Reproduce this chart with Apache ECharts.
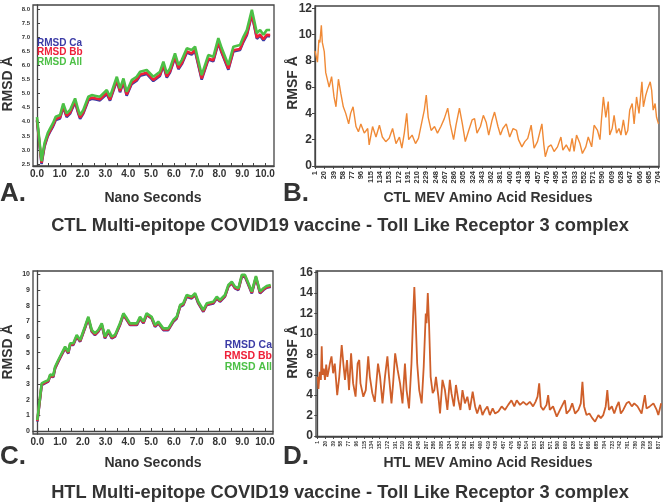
<!DOCTYPE html>
<html>
<head>
<meta charset="utf-8">
<script src="https://cdn.jsdelivr.net/npm/echarts@6/dist/echarts.min.js"></script>
<style>
  html, body { margin: 0; padding: 0; background: #fff; }
  #chart { width: 664px; height: 503px; }
</style>
</head>
<body>
<div id="chart"></div>
<script>
// ---- panel A : RMSD, CTL complex ----
const timeA = [0.00, 0.08, 0.20, 0.27, 0.33, 0.47, 0.57, 0.70, 0.82,
  1.01, 1.15, 1.30, 1.45, 1.67, 1.81, 1.89, 2.03, 2.25, 2.40, 2.58, 2.76,
  3.06, 3.20, 3.50, 3.64, 3.79, 3.93, 4.15, 4.37, 4.52, 4.81,
  5.10, 5.39, 5.54, 5.69, 5.83, 6.05, 6.20, 6.35, 6.57, 6.78, 6.93,
  7.22, 7.51, 7.73, 7.95, 8.10, 8.39, 8.61, 8.90,
  9.05, 9.20, 9.42, 9.64, 9.78, 9.93, 10.07, 10.22];
const rmsdAllA = [4.17, 4.15, 2.60, 2.95, 3.24, 3.60, 3.76, 3.95, 4.18,
  4.24, 4.65, 4.30, 4.42, 4.83, 4.42, 4.24, 4.42, 4.89, 4.95, 4.92, 4.89,
  5.13, 4.89, 5.60, 5.19, 5.54, 5.07, 5.48, 5.60, 5.78, 5.84,
  5.60, 5.78, 6.14, 5.72, 5.90, 6.43, 6.02, 6.20, 6.61, 6.55, 6.67,
  5.66, 6.37, 6.31, 6.97, 6.61, 6.02, 6.67, 6.73,
  7.02, 7.26, 7.98, 7.15, 7.26, 7.09, 7.26, 7.26];
const rmsdBbA = [4.08, 4.06, 2.54, 2.88, 3.16, 3.52, 3.68, 3.87, 4.10,
  4.16, 4.56, 4.21, 4.33, 4.74, 4.33, 4.15, 4.33, 4.80, 4.86, 4.83, 4.80,
  5.03, 4.79, 5.50, 5.09, 5.44, 4.97, 5.38, 5.50, 5.68, 5.74,
  5.49, 5.67, 6.03, 5.61, 5.79, 6.32, 5.91, 6.09, 6.50, 6.43, 6.55,
  5.54, 6.25, 6.19, 6.84, 6.48, 5.89, 6.54, 6.59,
  6.88, 7.12, 7.84, 6.99, 7.10, 6.93, 7.09, 7.08];
const rmsdCaA = [4.04, 4.02, 2.50, 2.84, 3.12, 3.48, 3.64, 3.83, 4.06,
  4.12, 4.52, 4.17, 4.29, 4.70, 4.29, 4.11, 4.29, 4.76, 4.82, 4.79, 4.76,
  4.99, 4.75, 5.46, 5.05, 5.40, 4.93, 5.34, 5.46, 5.64, 5.70,
  5.45, 5.63, 5.99, 5.57, 5.75, 6.28, 5.87, 6.05, 6.46, 6.39, 6.51,
  5.50, 6.21, 6.15, 6.80, 6.44, 5.85, 6.50, 6.55,
  6.84, 7.08, 7.80, 6.95, 7.06, 6.89, 7.05, 7.04];

// ---- panel C : RMSD, HTL complex ----
const timeC = [0.00, 0.19, 0.33, 0.48, 0.56, 0.70, 0.78, 0.92,
  1.07, 1.22, 1.36, 1.44, 1.58, 1.73, 1.88, 1.95,
  2.09, 2.24, 2.39, 2.53, 2.68, 2.83, 2.97,
  3.12, 3.27, 3.41, 3.63, 3.78, 3.93,
  4.07, 4.37, 4.51, 4.66, 4.80,
  5.02, 5.17, 5.31, 5.53, 5.75, 5.97,
  6.12, 6.27, 6.41, 6.56, 6.78, 6.93,
  7.07, 7.29, 7.44, 7.73, 7.88,
  8.02, 8.24, 8.39, 8.54, 8.68, 8.83, 8.98,
  9.12, 9.27, 9.42, 9.60, 9.78, 9.93,
  10.07, 10.25];
const rmsdAllC = [0.70, 3.04, 3.15, 3.25, 3.60, 3.55, 4.10, 4.53,
  4.96, 5.38, 5.06, 5.60, 5.60, 6.13, 5.81, 5.70,
  6.66, 7.29, 6.45, 6.23, 6.45, 6.87, 6.02,
  6.45, 6.02, 6.13, 6.87, 7.51, 7.19,
  6.87, 6.87, 7.29, 6.98, 7.51,
  7.29, 6.76, 6.98, 6.55, 6.55, 7.08,
  7.29, 8.04, 8.15, 8.68, 8.57, 8.79,
  8.25, 7.72, 8.15, 8.25, 8.57,
  8.36, 8.68, 9.32, 9.53, 9.21, 9.11, 9.96,
  9.96, 9.43, 8.89, 9.89, 8.89, 9.11,
  9.25, 9.32];
const rmsdBbC = [0.64, 2.97, 3.08, 3.19, 3.53, 3.48, 4.03, 4.46,
  4.89, 5.31, 4.99, 5.53, 5.53, 6.06, 5.74, 5.63,
  6.59, 7.22, 6.38, 6.16, 6.38, 6.80, 5.95,
  6.38, 5.95, 6.06, 6.80, 7.44, 7.12,
  6.80, 6.80, 7.22, 6.91, 7.44,
  7.22, 6.69, 6.91, 6.48, 6.48, 7.01,
  7.22, 7.97, 8.08, 8.61, 8.50, 8.72,
  8.18, 7.65, 8.08, 8.18, 8.50,
  8.29, 8.61, 9.25, 9.46, 9.14, 9.04, 9.89,
  9.89, 9.36, 8.82, 9.82, 8.82, 9.04,
  9.18, 9.25];
const rmsdCaC = [0.60, 2.93, 3.04, 3.15, 3.49, 3.44, 3.99, 4.42,
  4.85, 5.27, 4.95, 5.49, 5.49, 6.02, 5.70, 5.59,
  6.55, 7.18, 6.34, 6.12, 6.34, 6.76, 5.91,
  6.34, 5.91, 6.02, 6.76, 7.40, 7.08,
  6.76, 6.76, 7.18, 6.87, 7.40,
  7.18, 6.65, 6.87, 6.44, 6.44, 6.97,
  7.18, 7.93, 8.04, 8.57, 8.46, 8.68,
  8.14, 7.61, 8.04, 8.14, 8.46,
  8.25, 8.57, 9.21, 9.42, 9.10, 9.00, 9.85,
  9.85, 9.32, 8.78, 9.78, 8.78, 9.00,
  9.14, 9.21];

// ---- panel B : RMSF per residue, CTL MEV ----
const residueB = [1, 6, 9, 11, 14, 16, 20, 23, 30, 35,
  40, 44, 49, 54, 59, 64, 70, 74, 79, 85,
  90, 95, 102, 109, 112, 119, 126, 133, 139, 146,
  153, 160, 167, 174, 179, 184, 189, 193, 200, 207,
  213, 218, 225, 229, 233, 239, 246, 252, 259, 266,
  273, 278, 285, 290, 297, 303, 309, 316, 323, 328,
  333, 340, 346, 352, 357, 364, 369, 376, 381, 386,
  393, 400, 407, 414, 418, 425, 431, 437, 444, 450,
  457, 461, 466, 470, 473, 479, 485, 491, 498, 505,
  509, 516, 523, 528, 532, 537, 544, 549, 556, 561,
  568, 573, 580, 585, 588, 592, 597, 602, 605, 610,
  614, 619, 624, 628, 633, 638, 642, 646, 651, 655,
  660, 665, 671, 674, 679, 683, 688, 691, 694, 698,
  701, 705];
const rmsfB = [8.75, 7.9, 9.6, 9.4, 10.7, 9.4, 8.7, 7.1, 6.0, 6.8,
  5.25, 4.5, 6.6, 5.5, 4.5, 4.0, 3.2, 4.0, 4.5, 3.0,
  2.6, 3.2, 2.5, 2.85, 1.6, 3.0, 2.2, 3.1, 2.2, 1.85,
  2.1, 2.85, 1.7, 2.2, 1.35, 2.5, 4.0, 2.0, 2.35, 1.7,
  2.1, 3.0, 4.25, 5.4, 3.7, 2.7, 3.0, 2.5, 3.0, 3.6,
  4.4, 3.2, 2.0, 3.1, 4.4, 3.2, 1.85, 2.7, 3.5, 3.6,
  2.5, 3.0, 3.85, 3.3, 2.35, 3.5, 4.1, 3.0, 2.35, 2.85,
  3.2, 2.2, 2.85, 2.7, 2.0, 1.45, 1.85, 2.1, 3.1, 1.35,
  1.85, 2.0, 3.2, 1.6, 0.7, 1.45, 1.6, 1.1, 1.45, 2.2,
  1.2, 1.6, 1.1, 2.1, 1.1, 2.35, 1.7, 0.95, 1.45, 2.2,
  1.45, 3.1, 2.7, 2.0, 3.5, 5.25, 3.7, 4.9, 2.35, 2.85,
  3.85, 2.5, 2.85, 2.35, 3.5, 2.35, 2.7, 4.25, 4.75, 3.2,
  5.25, 4.0, 6.4, 4.5, 5.4, 5.9, 6.4, 5.75, 4.25, 4.75,
  3.7, 3.2];

// ---- panel D : RMSF per residue, HTL MEV ----
const residueD = [1, 3, 6, 9, 11, 13, 16, 19, 22, 25,
  28, 31, 35, 39, 43, 49, 54, 60, 64, 68,
  73, 78, 83, 88, 94, 99, 103, 106, 113, 119,
  125, 129, 135, 141, 149, 154, 160, 166, 172, 176,
  182, 186, 191, 197, 203, 209, 215, 219, 225, 231,
  235, 238, 241, 245, 250, 256, 261, 266, 268, 271,
  274, 278, 283, 287, 291, 297, 301, 307, 313, 319,
  325, 329, 335, 340, 346, 351, 356, 362, 368, 374,
  381, 387, 392, 399, 405, 411, 417, 423, 430, 436,
  444, 452, 460, 468, 476, 483, 489, 497, 505, 513,
  521, 529, 535, 540, 544, 548, 554, 562, 566, 570,
  578, 587, 595, 603, 607, 611, 619, 625, 632, 640,
  646, 650, 654, 660, 667, 674, 681, 689, 695, 701,
  707, 711, 715, 722, 728, 734, 739, 744, 750, 758,
  764, 771, 777, 785, 795, 803, 807, 815, 824, 832,
  836, 843];
const rmsfD = [5.8, 4.6, 6.3, 5.5, 8.8, 6.0, 6.6, 5.5, 7.0, 5.8,
  6.4, 7.1, 7.8, 6.15, 7.1, 4.0, 5.8, 8.9, 7.1, 5.5,
  7.45, 4.5, 8.1, 5.15, 3.85, 7.1, 7.45, 5.15, 3.85, 4.5,
  7.8, 5.8, 4.2, 3.35, 7.1, 5.8, 3.2, 5.8, 7.8, 5.8,
  3.2, 5.15, 8.1, 6.5, 5.15, 3.2, 7.1, 4.5, 2.7, 7.1,
  11.7, 14.6, 11.7, 7.1, 4.5, 3.2, 6.8, 12.0, 11.05, 14.0,
  11.05, 5.8, 4.2, 4.5, 5.8, 3.85, 2.2, 5.5, 4.5, 2.55,
  5.5, 4.2, 2.9, 5.0, 3.5, 2.55, 4.5, 3.2, 3.85, 2.55,
  4.35, 2.9, 2.2, 3.05, 2.05, 2.55, 2.9, 2.05, 2.7, 2.2,
  2.4, 2.9, 2.55, 3.05, 3.5, 2.9, 3.5, 3.05, 3.35, 3.05,
  3.35, 2.9, 3.35, 3.85, 5.15, 2.9, 2.55, 3.05, 4.0, 2.55,
  2.9, 1.9, 2.55, 3.2, 3.5, 2.2, 2.55, 3.2, 2.2, 2.55,
  3.2, 5.3, 2.9, 2.05, 2.2, 1.75, 1.4, 2.05, 1.75, 2.05,
  2.9, 4.5, 2.55, 2.9, 2.2, 2.9, 3.35, 2.2, 2.55, 3.2,
  3.35, 2.9, 3.2, 2.9, 2.2, 4.0, 2.7, 2.9, 3.2, 2.55,
  2.05, 3.2];

// ---- tick labels ----
const nsTicks = [0, 1, 2, 3, 4, 5, 6, 7, 8, 9, 10];
const nsMinorTicks = [0, 0.5, 1, 1.5, 2, 2.5, 3, 3.5, 4, 4.5, 5, 5.5, 6, 6.5, 7, 7.5, 8, 8.5, 9, 9.5, 10];
const rmsdTicksA = [2.5, 3.0, 3.5, 4.0, 4.5, 5.0, 5.5, 6.0, 6.5, 7.0, 7.5, 8.0];
const rmsdTicksC = [0, 1, 2, 3, 4, 5, 6, 7, 8, 9, 10];
const rmsfTicksB = [0, 2, 4, 6, 8, 10, 12];
const rmsfTicksD = [0, 2, 4, 6, 8, 10, 12, 14, 16];
const residueTicksB = [1, 20, 39, 58, 77, 96, 115, 134, 153, 172, 191, 210, 229, 248, 267, 286, 305, 324, 343,
  362, 381, 400, 419, 438, 457, 476, 495, 514, 533, 552, 571, 590, 609, 628, 647, 666, 685, 704];
const residueTicksD = [1, 20, 39, 58, 77, 96, 115, 134, 153, 172, 191, 210, 229, 248, 267, 286, 305, 324, 343,
  362, 381, 400, 419, 438, 457, 476, 495, 514, 533, 552, 571, 590, 609, 628, 647, 666, 685, 704,
  723, 742, 761, 780, 799, 818, 837];

const FONT = '"Liberation Sans", Arial, sans-serif';
const TXT = '#333';
const AXIS = '#444';
const BLUE = '#3b3ba6', RED = '#ee2038', GREEN = '#4cc046';

function pairs(xs, ys) {
  return xs.map(function (x, i) { return [x, ys[i]]; });
}

function text(str, x, y, size, opts) {
  opts = opts || {};
  return {
    type: 'text', x: x, y: y, rotation: opts.rot || 0, z: 100,
    style: {
      text: str, fill: opts.color || TXT,
      font: 'bold ' + size + 'px ' + FONT,
      align: opts.align || 'center', verticalAlign: 'middle',
      textAlign: opts.align || 'center', textVerticalAlign: 'middle'
    }
  };
}

function timeAxis(grid, min, max) {
  return {
    gridIndex: grid, type: 'value', min: min, max: max,
    axisLine: { show: true, lineStyle: { color: AXIS, width: 1.3 } },
    axisTick: { show: true, inside: true, length: 3, customValues: nsMinorTicks, lineStyle: { color: AXIS } },
    axisLabel: { customValues: nsTicks, formatter: function (v) { return v.toFixed(1); },
      fontSize: 10, fontWeight: 'bold', fontFamily: FONT, color: TXT, margin: 3 },
    splitLine: { show: false }
  };
}

function residueAxis(grid, min, max, ticks, size) {
  return {
    gridIndex: grid, type: 'value', min: min, max: max,
    axisLine: { show: true, lineStyle: { color: AXIS, width: 1.3 } },
    axisTick: { show: true, length: 3, customValues: ticks, lineStyle: { color: AXIS } },
    axisLabel: { customValues: ticks, rotate: 90, fontSize: size, fontWeight: 'bold',
      fontFamily: FONT, color: TXT, margin: 4 },
    splitLine: { show: false }
  };
}

function valueAxis(grid, min, max, ticks, size, fmt, inside) {
  return {
    gridIndex: grid, type: 'value', min: min, max: max,
    axisLine: { show: true, lineStyle: { color: AXIS, width: 1.3 } },
    axisTick: { show: true, inside: inside, length: 3, customValues: ticks, lineStyle: { color: AXIS } },
    axisLabel: { customValues: ticks, formatter: fmt, fontSize: size, fontWeight: 'bold',
      fontFamily: FONT, color: TXT, margin: 3 },
    splitLine: { show: false }
  };
}

function line(name, xi, xs, ys, color, width) {
  return {
    name: name, type: 'line', xAxisIndex: xi, yAxisIndex: xi,
    data: pairs(xs, ys), showSymbol: false, symbol: 'none',
    lineStyle: { color: color, width: width }, itemStyle: { color: color },
    animation: false
  };
}

const gridStyle = { show: true, borderColor: AXIS, borderWidth: 1.3, backgroundColor: '#fff' };

const chart = echarts.init(document.getElementById('chart'), null, { renderer: 'canvas' });
chart.setOption({
  backgroundColor: '#fff',
  animation: false,
  grid: [
    Object.assign({ left: 33, top: 5, width: 241, height: 161 }, gridStyle),
    Object.assign({ left: 315, top: 6, width: 344, height: 161 }, gridStyle),
    Object.assign({ left: 33, top: 271, width: 240, height: 163 }, gridStyle),
    Object.assign({ left: 316, top: 271, width: 346, height: 166 }, gridStyle)
  ],
  xAxis: [
    timeAxis(0, -0.175, 10.39),
    residueAxis(1, 1, 706, residueTicksB, 7.5),
    timeAxis(2, -0.19, 10.35),
    residueAxis(3, -3, 845, residueTicksD, 5)
  ],
  yAxis: [
    valueAxis(0, 2.43, 8.15, rmsdTicksA, 6, function (v) { return v.toFixed(1); }, true),
    valueAxis(1, -0.08, 12.17, rmsfTicksB, 12, null, false),
    valueAxis(2, -0.19, 10.21, rmsdTicksC, 7, null, true),
    valueAxis(3, -0.1, 16.17, rmsfTicksD, 12, null, false)
  ],
  series: [
    line('RMSD Ca', 0, timeA, rmsdCaA, BLUE, 2.6),
    line('RMSD Bb', 0, timeA, rmsdBbA, RED, 2.6),
    line('RMSD All', 0, timeA, rmsdAllA, GREEN, 2.6),
    line('RMSF CTL', 1, residueB, rmsfB, '#f08a36', 1.4),
    line('RMSD Ca', 2, timeC, rmsdCaC, BLUE, 2.6),
    line('RMSD Bb', 2, timeC, rmsdBbC, RED, 2.6),
    line('RMSD All', 2, timeC, rmsdAllC, GREEN, 2.6),
    line('RMSF HTL', 3, residueD, rmsfD, '#cf5f2a', 1.8)
  ],
  graphic: [
    // legends
    text('RMSD Ca', 37, 43, 10, { color: BLUE, align: 'left' }),
    text('RMSD Bb', 37, 52.5, 10, { color: RED, align: 'left' }),
    text('RMSD All', 37, 62, 10, { color: GREEN, align: 'left' }),
    text('RMSD Ca', 272, 345, 10.5, { color: BLUE, align: 'right' }),
    text('RMSD Bb', 272, 356, 10.5, { color: RED, align: 'right' }),
    text('RMSD All', 272, 367, 10.5, { color: GREEN, align: 'right' }),
    // axis names
    text('RMSD Å', 8, 84, 14, { rot: Math.PI / 2 }),
    text('RMSF Å', 293, 83, 14, { rot: Math.PI / 2 }),
    text('RMSD Å', 8, 352, 14, { rot: Math.PI / 2 }),
    text('RMSF Å', 293, 352, 14, { rot: Math.PI / 2 }),
    text('Nano Seconds', 153, 198, 14),
    text('CTL MEV Amino Acid Residues', 488, 198, 14),
    text('Nano Seconds', 153, 463, 14),
    text('HTL MEV Amino Acid Residues', 488, 463, 14),
    // panel letters
    text('A.', 0, 194, 26, { align: 'left' }),
    text('B.', 283, 194, 26, { align: 'left' }),
    text('C.', 0, 457, 26, { align: 'left' }),
    text('D.', 283, 457, 26, { align: 'left' }),
    // titles
    text('CTL Multi-epitope COVID19 vaccine - Toll Like Receptor 3 complex', 340, 226, 18.3),
    text('HTL Multi-epitope COVID19 vaccine - Toll Like Receptor 3 complex', 340, 493, 18.3)
  ]
});
</script>
</body>
</html>
